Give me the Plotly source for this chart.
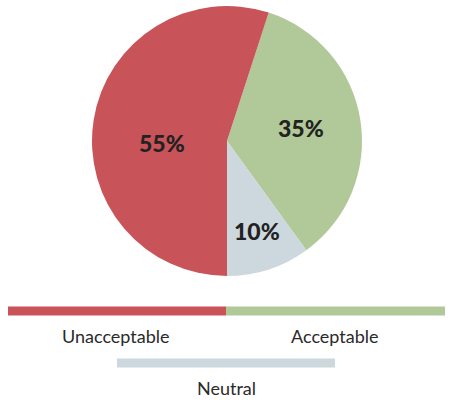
import plotly.graph_objects as go

W, H = 455, 401

# Data
categories = ["Acceptable", "Neutral", "Unacceptable"]
values = [35, 10, 55]
colors = ["#B1C898", "#CDD8DE", "#C8545A"]

fig = go.Figure()

def px_x(x):
    return x / W

def px_y(y):
    return 1 - y / H

fig.add_trace(go.Pie(
    labels=categories,
    values=values,
    marker=dict(colors=colors, line=dict(width=0)),
    sort=False,
    direction="clockwise",
    rotation=18,
    textinfo="none",
    hoverinfo="label+percent",
    showlegend=False,
    domain=dict(x=[px_x(92), px_x(362)], y=[px_y(276), px_y(6)]),
))

# Percentage labels inside slices
label_pos = {"Unacceptable": (162, 143), "Acceptable": (301, 128), "Neutral": (257, 231)}
annotations = []
for cat, val in zip(categories, values):
    x, y = label_pos[cat]
    annotations.append(dict(
        x=px_x(x), y=px_y(y), xref="paper", yref="paper",
        text=f"{val}%", showarrow=False,
        font=dict(family="Lato", size=23, color="#222222", weight=900),
        xanchor="center", yanchor="middle",
    ))

# Custom legend bars
legend_items = {
    "Unacceptable": (8, 226, 311, 116, 336),
    "Acceptable": (226, 445, 311, 335, 336),
    "Neutral": (117, 335, 363, 226, 388),
}
shapes = []
for cat, col in zip(categories, colors):
    x0, x1, yc, tx, ty = legend_items[cat]
    shapes.append(dict(
        type="rect", xref="paper", yref="paper",
        x0=px_x(x0), x1=px_x(x1), y0=px_y(yc + 4.5), y1=px_y(yc - 4.5),
        fillcolor=col, line=dict(width=0), layer="above",
    ))
    annotations.append(dict(
        x=px_x(tx), y=px_y(ty), xref="paper", yref="paper",
        text=cat, showarrow=False,
        font=dict(family="Lato", size=18, color="#2a2a2a"),
        xanchor="center", yanchor="middle",
    ))

fig.update_layout(
    width=W, height=H,
    margin=dict(l=0, r=0, t=0, b=0),
    paper_bgcolor="white", plot_bgcolor="white",
    annotations=annotations, shapes=shapes,
)

fig.write_html("out.html", config={"displayModeBar": False},
               post_script="document.body.style.margin='0';")
